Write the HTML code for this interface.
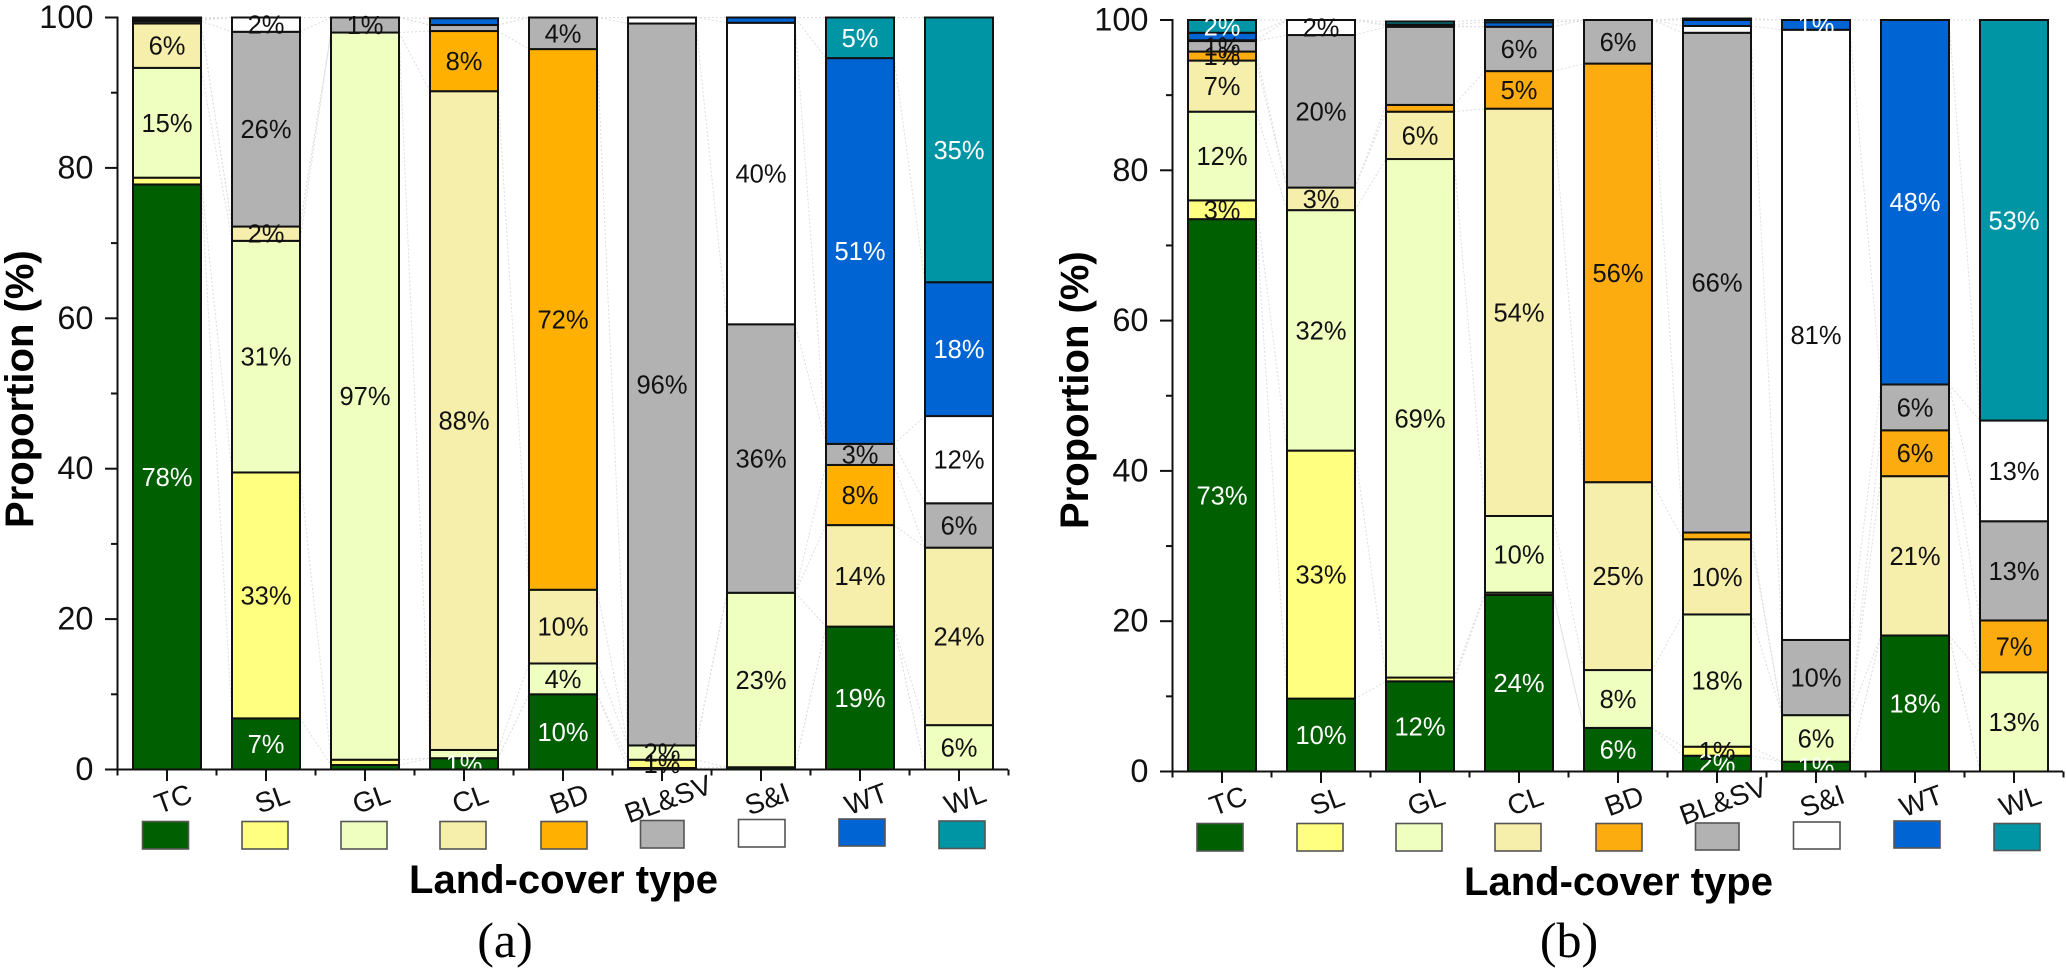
<!DOCTYPE html>
<html lang="en">
<head>
<meta charset="utf-8">
<title>Proportion of land-cover types</title>
<style>
html,body{margin:0;padding:0;background:#fff;}
svg{display:block;font-family:"Liberation Sans",sans-serif;}
.seg-label{font-size:25.5px;text-anchor:middle;}
.num{font-size:32.5px;text-anchor:end;fill:#111;}
.cat{font-size:28px;text-anchor:middle;fill:#111;}
.title{font-size:40px;font-weight:bold;fill:#000;}
.cap{font-family:"Liberation Serif",serif;font-size:50px;text-anchor:middle;fill:#000;}
.sw{stroke:#555;stroke-width:1.6;}
</style>
</head>
<body>
<svg id="chart" xmlns="http://www.w3.org/2000/svg" width="2066" height="969" viewBox="0 0 2066 969">
  <rect x="0" y="0" width="2066" height="969" fill="#fff"/>
  <g id="panel-a"></g>
  <g id="panel-b"></g>

  <g>
    <rect class="sw" x="142.5" y="821.5" width="46" height="27.5" fill="#005f00"/>
    <rect class="sw" x="242" y="821.5" width="46" height="27.5" fill="#ffff80"/>
    <rect class="sw" x="341" y="821.5" width="46" height="27.5" fill="#eeffc0"/>
    <rect class="sw" x="440" y="821.5" width="46" height="27.5" fill="#f6eeab"/>
    <rect class="sw" x="541" y="821.5" width="46" height="27.5" fill="#ffb000"/>
    <rect class="sw" x="640.5" y="820.5" width="43.5" height="27.5" fill="#b2b2b2"/>
    <rect class="sw" x="738.5" y="819.5" width="46.5" height="27.5" fill="#ffffff"/>
    <rect class="sw" x="839" y="819" width="46" height="27" fill="#0064d2"/>
    <rect class="sw" x="939" y="821" width="46" height="27.5" fill="#0095a5"/>
  </g>
  <g>
    <rect class="sw" x="1197" y="823.5" width="46" height="27.5" fill="#005f00"/>
    <rect class="sw" x="1297" y="823.5" width="46" height="27.5" fill="#ffff80"/>
    <rect class="sw" x="1396" y="823.5" width="46" height="27.5" fill="#eeffc0"/>
    <rect class="sw" x="1495" y="823.5" width="46" height="27.5" fill="#f6eeab"/>
    <rect class="sw" x="1596" y="823.5" width="46" height="27.5" fill="#fdac10"/>
    <rect class="sw" x="1695.5" y="823" width="43.5" height="27" fill="#b2b2b2"/>
    <rect class="sw" x="1793.5" y="822" width="46.5" height="27" fill="#ffffff"/>
    <rect class="sw" x="1894" y="821" width="46" height="27" fill="#0064d2"/>
    <rect class="sw" x="1994" y="823.5" width="46" height="27" fill="#0095a5"/>
  </g>

  <text class="title" x="563.5" y="893" text-anchor="middle">Land-cover type</text>
  <text class="title" x="1618.5" y="895" text-anchor="middle">Land-cover type</text>
  <text class="title" transform="translate(33 528) rotate(-90)" x="0" y="0">Proportion (%)</text>
  <text class="title" transform="translate(1088 529) rotate(-90)" x="0" y="0">Proportion (%)</text>
  <text class="cap" x="505" y="957">(a)</text>
  <text class="cap" x="1569" y="957">(b)</text>
</svg>

<script>
// Shared chart data
const categories = ["TC", "SL", "GL", "CL", "BD", "BL&SV", "S&I", "WT", "WL"];
const seriesKeys = ["tc", "sl", "gl", "cl", "bd", "blsv", "si", "wt", "wl"];
const yTickLabels = ["0", "20", "40", "60", "80", "100"];
const yTickValues = [0, 20, 40, 60, 80, 100];
const yMinorValues = [10, 30, 50, 70, 90];

// Panel (a): proportion of each land-cover series in each category
const aTC = [77.8, 6.8, 0.6, 1.5, 10.0, 0.2, 0.3, 19.0, 0];
const aSL = [0.9, 32.7, 0.7, 0, 0, 1.1, 0, 0, 0];
const aGL = [14.6, 30.8, 96.7, 1.1, 4.1, 1.9, 23.2, 0, 5.9];
const aCL = [5.9, 1.9, 0, 87.6, 9.8, 0, 0, 13.5, 23.6];
const aBD = [0, 0, 0, 8.0, 71.9, 0, 0, 8.0, 0];
const aBL = [0.3, 25.9, 2.0, 0.8, 4.2, 96.0, 35.7, 2.8, 5.9];
const aSI = [0.1, 1.9, 0, 0, 0, 0.8, 40.1, 0, 11.6];
const aWT = [0.2, 0, 0, 0.9, 0, 0, 0.7, 51.3, 17.8];
const aWL = [0.2, 0, 0, 0, 0, 0, 0, 5.4, 35.2];

// Panel (a): printed labels
const aTCLabels = ["78%", "7%", "", "1%", "10%", "", "", "19%", ""];
const aSLLabels = ["", "33%", "", "", "", "1%", "", "", ""];
const aGLLabels = ["15%", "31%", "97%", "", "4%", "2%", "23%", "", "6%"];
const aCLLabels = ["6%", "2%", "", "88%", "10%", "", "", "14%", "24%"];
const aBDLabels = ["", "", "", "8%", "72%", "", "", "8%", ""];
const aBLLabels = ["", "26%", "1%", "", "4%", "96%", "36%", "3%", "6%"];
const aSILabels = ["", "2%", "", "", "", "", "40%", "", "12%"];
const aWTLabels = ["", "", "", "", "", "", "", "51%", "18%"];
const aWLLabels = ["", "", "", "", "", "", "", "5%", "35%"];

// Panel (b): proportion of each land-cover series in each category
const bTC = [73.5, 9.7, 12.0, 23.5, 5.8, 2.1, 1.3, 18.1, 0];
const bSL = [2.5, 33.0, 0.5, 0.3, 0, 1.2, 0, 0, 0];
const bGL = [11.8, 32.0, 69.0, 10.2, 7.7, 17.6, 6.2, 0, 13.2];
const bCL = [6.8, 3.0, 6.3, 54.2, 25.0, 10.0, 0, 21.2, 0];
const bBD = [1.2, 0, 0.9, 5.0, 55.7, 0.9, 0, 6.1, 6.9];
const bBL = [1.4, 20.3, 10.4, 5.9, 5.8, 66.5, 10.0, 6.1, 13.2];
const bSI = [0.1, 2.0, 0.1, 0, 0, 0.9, 81.2, 0, 13.4];
const bWT = [1.0, 0, 0.2, 0.6, 0, 0.8, 1.3, 48.5, 0];
const bWL = [1.7, 0, 0.4, 0.3, 0, 0.2, 0, 0, 53.3];

// Panel (b): printed labels
const bTCLabels = ["73%", "10%", "12%", "24%", "6%", "2%", "1%", "18%", ""];
const bSLLabels = ["3%", "33%", "", "", "", "1%", "", "", ""];
const bGLLabels = ["12%", "32%", "69%", "10%", "8%", "18%", "6%", "", "13%"];
const bCLLabels = ["7%", "3%", "6%", "54%", "25%", "10%", "", "21%", ""];
const bBDLabels = ["1%", "", "", "5%", "56%", "", "", "6%", "7%"];
const bBLLabels = ["1%", "20%", "", "6%", "6%", "66%", "10%", "6%", "13%"];
const bSILabels = ["", "2%", "", "", "", "", "81%", "", "13%"];
const bWTLabels = ["", "", "", "", "", "", "1%", "48%", ""];
const bWLLabels = ["2%", "", "", "", "", "", "", "", "53%"];

const aSeries = [aTC, aSL, aGL, aCL, aBD, aBL, aSI, aWT, aWL];
const aLabels = [aTCLabels, aSLLabels, aGLLabels, aCLLabels, aBDLabels, aBLLabels, aSILabels, aWTLabels, aWLLabels];
const bSeries = [bTC, bSL, bGL, bCL, bBD, bBL, bSI, bWT, bWL];
const bLabels = [bTCLabels, bSLLabels, bGLLabels, bCLLabels, bBDLabels, bBLLabels, bSILabels, bWTLabels, bWLLabels];

const aColors = ["#005f00", "#ffff80", "#eeffc0", "#f6eeab", "#ffb000", "#b2b2b2", "#ffffff", "#0064d2", "#0095a5"];
const bColors = ["#005f00", "#ffff80", "#eeffc0", "#f6eeab", "#fdac10", "#b2b2b2", "#ffffff", "#0064d2", "#0095a5"];
const labelColors = ["#fff", "#111", "#111", "#111", "#111", "#111", "#111", "#fff", "#fff"];

const NS = "http://www.w3.org/2000/svg";
function mk(parent, tag, attrs, text) {
  const el = document.createElementNS(NS, tag);
  for (const k in attrs) el.setAttribute(k, attrs[k]);
  if (text !== undefined) el.textContent = text;
  parent.appendChild(el);
  return el;
}

function drawPanel(cfg) {
  const root = document.getElementById(cfg.id);
  const yScale = v => cfg.y0 - v * cfg.pxPerUnit;
  const xScale = i => cfg.x0 + i * cfg.pitch;
  const barW = 68;

  // Cumulative stacks per category
  const stacks = categories.map((_, c) => {
    let run = 0;
    return cfg.series.map(s => { const lo = run; run += s[c]; return [lo, run]; });
  });

  // Connector lines between neighbouring bars
  const connG = mk(root, "g", {});
  
  
  cfg.series.forEach((s, si) => {
    for (let c = 0; c < categories.length - 1; c++) {
      const ln = mk(connG, "line", {
        x1: xScale(c) + barW / 2, y1: yScale(stacks[c][si][1]),
        x2: xScale(c + 1) - barW / 2, y2: yScale(stacks[c + 1][si][1]),
        stroke: "#dddddd", "stroke-width": 1, "stroke-dasharray": "2 2"
      });
      
      
    }
  });

  // Stacked bars
  categories.forEach((cat, c) => {
    const barG = mk(root, "g", {});
    
    
    cfg.series.forEach((s, si) => {
      if (s[c] <= 0) return;
      const seg = stacks[c][si];
      const r = mk(barG, "rect", {
        x: xScale(c) - barW / 2, y: yScale(seg[1]),
        width: barW, height: yScale(seg[0]) - yScale(seg[1]),
        fill: cfg.colors[si], stroke: "#111", "stroke-width": 2
      });
      
      
    });
  });

  // Segment labels
  const labG = mk(root, "g", {});
  
  
  cfg.series.forEach((s, si) => {
    categories.forEach((cat, c) => {
      const txt = cfg.labels[si][c];
      if (!txt) return;
      const seg = stacks[c][si];
      const t = mk(labG, "text", {
        class: "seg-label",
        x: xScale(c),
        y: yScale((seg[0] + seg[1]) / 2) + 9,
        fill: labelColors[si]
      }, txt);
      
      
    });
  });

  // Axes
  const axG = mk(root, "g", { stroke: "#111", "stroke-width": 2, fill: "none" });
  
  
  const axisX = cfg.x0 - 49.5;
  const yLine = mk(axG, "line", { x1: axisX, y1: yScale(100) - 1, x2: axisX, y2: yScale(0) + 1 });
  
  
  const xLine = mk(axG, "line", { x1: axisX - 12.5, y1: yScale(0), x2: cfg.xEnd, y2: yScale(0) });
  
  

  yTickValues.forEach((v, i) => {
    const tk = mk(axG, "line", { x1: axisX - 12.5, y1: yScale(v), x2: axisX, y2: yScale(v) });
    
    
    const t = mk(root, "text", { class: "num", x: axisX - 24, y: yScale(v) + 10.5 }, yTickLabels[i]);
    
    
  });
  yMinorValues.forEach(v => {
    const tk = mk(axG, "line", { x1: axisX - 6.5, y1: yScale(v), x2: axisX, y2: yScale(v) });
    
    
  });

  categories.forEach((cat, c) => {
    const x = xScale(c);
    const tk = mk(axG, "line", { x1: x, y1: yScale(0), x2: x, y2: yScale(0) + 11.5 });
    
    
    const cy = yScale(0) + 29;
    const t = mk(root, "text", {
      class: "cat", x: x + 6, y: cy + 10,
      transform: "rotate(-20 " + (x + 6) + " " + cy + ")"
    }, cat);
    
    
  });
  for (let c = 0; c <= categories.length; c++) {
    const x = axisX + c * cfg.pitch;
    const tk = mk(axG, "line", { x1: x, y1: yScale(0), x2: x, y2: yScale(0) + 6 });
    
    
  }
}

drawPanel({ id: "panel-a", series: aSeries, labels: aLabels, colors: aColors,
            x0: 167, pitch: 99, y0: 769.5, pxPerUnit: 7.52, xEnd: 1008 });
drawPanel({ id: "panel-b", series: bSeries, labels: bLabels, colors: bColors,
            x0: 1222, pitch: 99, y0: 771.5, pxPerUnit: 7.515, xEnd: 2063 });
</script>
</body>
</html>
